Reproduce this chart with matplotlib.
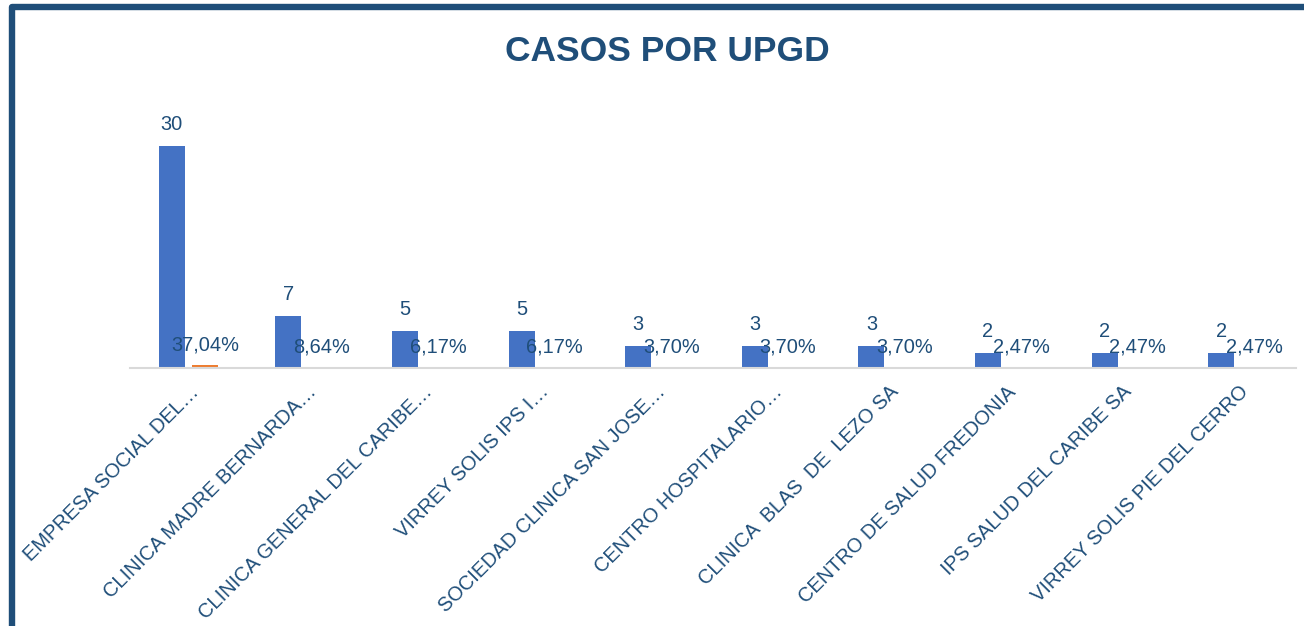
import matplotlib
matplotlib.use("Agg")
import matplotlib.pyplot as plt
import matplotlib.transforms as mtransforms
from matplotlib import font_manager
from matplotlib.lines import Line2D
import numpy as np

categories = [
    "EMPRESA SOCIAL DEL…",
    "CLINICA MADRE BERNARDA…",
    "CLINICA GENERAL DEL CARIBE…",
    "VIRREY SOLIS IPS I…",
    "SOCIEDAD CLINICA SAN JOSE…",
    "CENTRO HOSPITALARIO…",
    "CLINICA  BLAS  DE  LEZO SA",
    "CENTRO DE SALUD FREDONIA",
    "IPS SALUD DEL CARIBE SA",
    "VIRREY SOLIS PIE DEL CERRO",
]
cases = [30, 7, 5, 5, 3, 3, 3, 2, 2, 2]
percent = [37.04, 8.64, 6.17, 6.17, 3.70, 3.70, 3.70, 2.47, 2.47, 2.47]

BLUE = "#4472C4"
ORANGE = "#ED7D31"
TEXT = "#1F4E79"

# narrow font if we have it, otherwise regular at a smaller size
installed = {f.name for f in font_manager.fontManager.ttflist}
if "Liberation Sans Narrow" in installed:
    label_font, label_size = "Liberation Sans Narrow", 17.5
else:
    label_font, label_size = "Liberation Sans", 14.4
plt.rcParams["font.family"] = [label_font, "DejaVu Sans"]

fig = plt.figure(figsize=(13.04, 6.26), dpi=100)
ax = fig.add_axes([0.0997, 0.412, 0.8942, 0.428])

x = np.arange(len(categories))
w = 0.223
off = 0.142
ax.bar(x - off, cases, width=w, color=BLUE)
ax.bar(x + off, [p / 100 for p in percent], width=w, color=ORANGE)

for xi, c in zip(x, cases):
    ax.annotate(str(c), (xi - off, c), xytext=(0, 11.5), textcoords="offset points",
                ha="center", va="baseline", fontsize=label_size, color=TEXT)
for xi, p in zip(x, percent):
    ax.annotate(f"{p:.2f}%".replace(".", ","), (xi + off, p / 100), xytext=(0, 11),
                textcoords="offset points", ha="center", va="baseline",
                fontsize=label_size, color=TEXT)

ax.set_xlim(-0.5, len(categories) - 0.5)
ax.set_ylim(0, 36.2)
ax.set_yticks([])
for s in ["top", "right", "left"]:
    ax.spines[s].set_visible(False)
ax.spines["bottom"].set_color("#D9D9D9")
ax.spines["bottom"].set_linewidth(1.5)

ax.set_xticks(x)
ax.set_xticklabels(categories, rotation=45, ha="right", va="center",
                   rotation_mode="anchor", fontsize=label_size, color=TEXT)
ax.tick_params(axis="x", length=0, pad=15)
shift = mtransforms.ScaledTranslation(0.08, 0, fig.dpi_scale_trans)
for lbl in ax.get_xticklabels():
    lbl.set_transform(lbl.get_transform() + shift)

fig.text(0.512, 0.917, "CASOS POR UPGD", ha="center", va="center",
         fontsize=25.5, fontweight="bold", color=TEXT, family="Liberation Sans")

# dark frame around the chart (runs off the right and bottom edges)
bx, by = 11.7 / 1304, 1 - 7 / 626
fig.add_artist(Line2D([bx, bx, 1.05], [-0.05, by, by], transform=fig.transFigure,
                      color="#1F4E79", linewidth=4.6, solid_joinstyle="round"))

fig.savefig("out.png", dpi=100)
